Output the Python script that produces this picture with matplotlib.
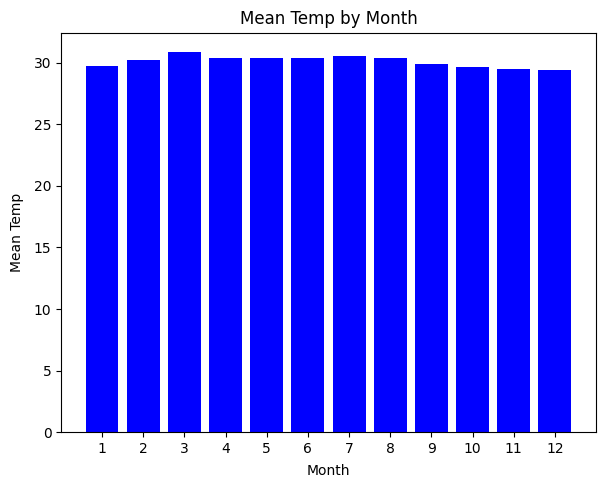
import matplotlib
matplotlib.use('Agg')
import matplotlib.pyplot as plt

months = list(range(1, 13))
mean_temp = [29.70, 30.19, 30.89, 30.43, 30.43, 30.43, 30.57, 30.35, 29.94, 29.62, 29.51, 29.41]

fig = plt.figure(figsize=(6.06, 4.9), dpi=100)
ax = fig.add_axes([0.101, 0.118, 0.882, 0.815])
ax.bar(months, mean_temp, color='blue')
ax.set_xticks(months)
ax.set_title('Mean Temp by Month')
ax.set_xlabel('Month', labelpad=6)
ax.set_ylabel('Mean Temp', labelpad=7)
fig.savefig('out.png', dpi=100)
